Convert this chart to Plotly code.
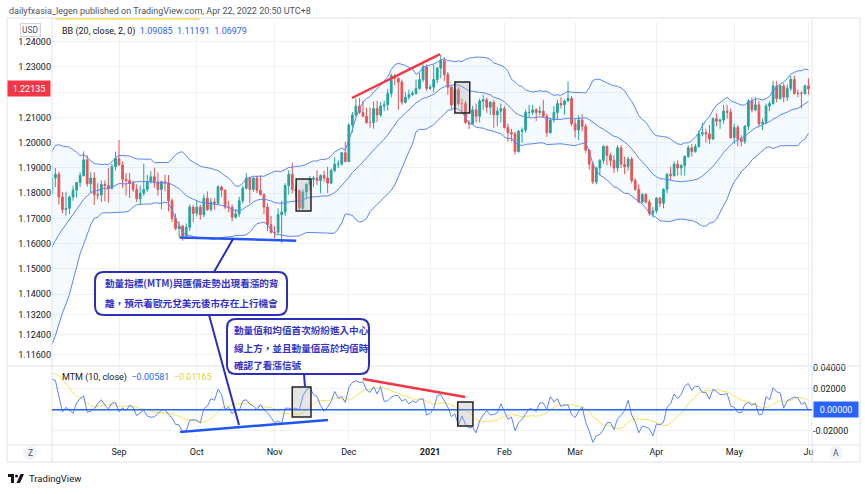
import plotly.graph_objects as go
import pandas as pd

# ---------------- data (EUR/USD daily, Jul 1 2020 - Jun 1 2021) ----------------
closes = [
    1.1250, 1.1240, 1.1245, 1.1310, 1.1275, 1.1330, 1.1285, 1.1300, 1.1340, 1.1410, 1.1413, 1.1383, 1.1428, 1.1445, 1.1525, 1.1570, 1.1595, 1.1655, 1.1755, 1.1717, 1.1790, 1.1845, 1.1778,
    1.1762, 1.1800, 1.1860, 1.1875, 1.1785, 1.1735, 1.1740, 1.1785, 1.1812, 1.1842, 1.1870, 1.1932, 1.1837, 1.1860, 1.1795, 1.1793, 1.1835, 1.1830, 1.1820, 1.1905, 1.1937,
    1.1912, 1.1855, 1.1850, 1.1838, 1.1815, 1.1778, 1.1800, 1.1815, 1.1845, 1.1865, 1.1845, 1.1815, 1.1845, 1.1840, 1.1770, 1.1700, 1.1660, 1.1670, 1.1630, 1.1665, 1.1745, 1.1720,
    1.1745, 1.1715, 1.1780, 1.1735, 1.1765, 1.1760, 1.1825, 1.1812, 1.1745, 1.1745, 1.1705, 1.1718, 1.1770, 1.1820, 1.1860, 1.1815, 1.1860, 1.1812, 1.1795, 1.1745, 1.1675, 1.1645,
    1.1645, 1.1715, 1.1725, 1.1830, 1.1875, 1.1815, 1.1810, 1.1740, 1.1805, 1.1835, 1.1855, 1.1860, 1.1850, 1.1870, 1.1860, 1.1840, 1.1890, 1.1915, 1.1915, 1.1960, 1.1925,
    1.2070, 1.2110, 1.2145, 1.2120, 1.2105, 1.2080, 1.2080, 1.2135, 1.2110, 1.2145, 1.2150, 1.2195, 1.2265, 1.2255, 1.2240, 1.2160, 1.2180, 1.2190, 1.2195, 1.2215, 1.2250, 1.2300, 1.2215,
    1.2220, 1.2250, 1.2295, 1.2325, 1.2270, 1.2220, 1.2150, 1.2210, 1.2155, 1.2155, 1.2080, 1.2075, 1.2130, 1.2105, 1.2165, 1.2170, 1.2140, 1.2160, 1.2110, 1.2125, 1.2135,
    1.2060, 1.2040, 1.2035, 1.1965, 1.2045, 1.2050, 1.2120, 1.2120, 1.2130, 1.2120, 1.2125, 1.2105, 1.2040, 1.2090, 1.2120, 1.2155, 1.2150, 1.2165, 1.2175, 1.2075,
    1.2050, 1.2090, 1.2065, 1.1970, 1.1915, 1.1845, 1.1900, 1.1930, 1.1985, 1.1950, 1.1930, 1.1900, 1.1980, 1.1915, 1.1905, 1.1935, 1.1850, 1.1815, 1.1765, 1.1795, 1.1765, 1.1720, 1.1730,
    1.1780, 1.1760, 1.1815, 1.1875, 1.1870, 1.1915, 1.1900, 1.1910, 1.1945, 1.1980, 1.1965, 1.1985, 1.2035, 1.2040, 1.2035, 1.2015, 1.2095, 1.2085, 1.2090, 1.2125, 1.2120, 1.2020,
    1.2060, 1.2015, 1.2005, 1.2065, 1.2165, 1.2130, 1.2150, 1.2075, 1.2080, 1.2145, 1.2155, 1.2225, 1.2175, 1.2225, 1.2180, 1.2215, 1.2250, 1.2195, 1.2195, 1.2195, 1.2225,
    1.22135,
]
opens = [
    1.1233, 1.1250, 1.1240, 1.1245, 1.1310, 1.1275, 1.1330, 1.1285, 1.1300, 1.1340, 1.1410, 1.1413, 1.1383, 1.1428, 1.1445, 1.1525, 1.1570, 1.1595, 1.1655, 1.1755, 1.1717, 1.1790, 1.1845,
    1.1778, 1.1762, 1.1800, 1.1860, 1.1875, 1.1785, 1.1735, 1.1740, 1.1785, 1.1812, 1.1842, 1.1870, 1.1932, 1.1837, 1.1860, 1.1795, 1.1793, 1.1835, 1.1830, 1.1820, 1.1905,
    1.1937, 1.1912, 1.1855, 1.1850, 1.1838, 1.1815, 1.1778, 1.1800, 1.1815, 1.1845, 1.1865, 1.1845, 1.1815, 1.1845, 1.1840, 1.1770, 1.1700, 1.1660, 1.1670, 1.1630, 1.1665, 1.1745,
    1.1720, 1.1745, 1.1715, 1.1780, 1.1735, 1.1765, 1.1760, 1.1825, 1.1812, 1.1745, 1.1745, 1.1705, 1.1718, 1.1770, 1.1820, 1.1860, 1.1815, 1.1860, 1.1812, 1.1795, 1.1745, 1.1675,
    1.1645, 1.1645, 1.1715, 1.1725, 1.1830, 1.1875, 1.1815, 1.1810, 1.1740, 1.1805, 1.1835, 1.1855, 1.1860, 1.1850, 1.1870, 1.1860, 1.1840, 1.1890, 1.1915, 1.1915, 1.1960,
    1.1925, 1.2070, 1.2110, 1.2145, 1.2120, 1.2105, 1.2080, 1.2080, 1.2135, 1.2110, 1.2145, 1.2150, 1.2195, 1.2265, 1.2255, 1.2240, 1.2160, 1.2180, 1.2190, 1.2195, 1.2215, 1.2250, 1.2300,
    1.2215, 1.2220, 1.2250, 1.2295, 1.2325, 1.2270, 1.2220, 1.2150, 1.2210, 1.2155, 1.2155, 1.2080, 1.2075, 1.2130, 1.2105, 1.2165, 1.2170, 1.2140, 1.2160, 1.2110, 1.2125,
    1.2135, 1.2060, 1.2040, 1.2035, 1.1965, 1.2045, 1.2050, 1.2120, 1.2120, 1.2130, 1.2120, 1.2125, 1.2105, 1.2040, 1.2090, 1.2120, 1.2155, 1.2150, 1.2165, 1.2175,
    1.2075, 1.2050, 1.2090, 1.2065, 1.1970, 1.1915, 1.1845, 1.1900, 1.1930, 1.1985, 1.1950, 1.1930, 1.1900, 1.1980, 1.1915, 1.1905, 1.1935, 1.1850, 1.1815, 1.1765, 1.1795, 1.1765, 1.1720,
    1.1730, 1.1780, 1.1760, 1.1815, 1.1875, 1.1870, 1.1915, 1.1900, 1.1910, 1.1945, 1.1980, 1.1965, 1.1985, 1.2035, 1.2040, 1.2035, 1.2015, 1.2095, 1.2085, 1.2090, 1.2125, 1.2120,
    1.2020, 1.2060, 1.2015, 1.2005, 1.2065, 1.2165, 1.2130, 1.2150, 1.2075, 1.2080, 1.2145, 1.2155, 1.2225, 1.2175, 1.2225, 1.2180, 1.2215, 1.2250, 1.2195, 1.2195, 1.2195,
    1.2225,
]
highs = [
    1.1290, 1.1303, 1.1260, 1.1346, 1.1323, 1.1345, 1.1371, 1.1310, 1.1375, 1.1420, 1.1452, 1.1427, 1.1450, 1.1469, 1.1540, 1.1600, 1.1627, 1.1661, 1.1780, 1.1780, 1.1806, 1.1850, 1.1909,
    1.1794, 1.1809, 1.1916, 1.1900, 1.1885, 1.1805, 1.1805, 1.1790, 1.1830, 1.1845, 1.1883, 1.1966, 1.1951, 1.1883, 1.1883, 1.1840, 1.1850, 1.1850, 1.1900, 1.1916, 1.1965,
    1.2011, 1.1925, 1.1880, 1.1880, 1.1850, 1.1835, 1.1830, 1.1917, 1.1872, 1.1887, 1.1901, 1.1882, 1.1850, 1.1873, 1.1872, 1.1780, 1.1720, 1.1688, 1.1675, 1.1680, 1.1755, 1.1754,
    1.1771, 1.1755, 1.1795, 1.1807, 1.1780, 1.1780, 1.1832, 1.1830, 1.1815, 1.1770, 1.1755, 1.1737, 1.1786, 1.1830, 1.1880, 1.1865, 1.1865, 1.1870, 1.1870, 1.1800, 1.1760, 1.1710,
    1.1670, 1.1740, 1.1770, 1.1840, 1.1891, 1.1920, 1.1830, 1.1815, 1.1815, 1.1840, 1.1868, 1.1868, 1.1891, 1.1875, 1.1889, 1.1905, 1.1897, 1.1942, 1.1930, 1.1964, 1.2004,
    1.2077, 1.2122, 1.2176, 1.2177, 1.2167, 1.2138, 1.2140, 1.2163, 1.2166, 1.2162, 1.2167, 1.2212, 1.2273, 1.2272, 1.2258, 1.2250, 1.2200, 1.2210, 1.2205, 1.2250, 1.2276, 1.2310, 1.2310,
    1.2230, 1.2310, 1.2300, 1.2349, 1.2339, 1.2280, 1.2225, 1.2215, 1.2220, 1.2175, 1.2165, 1.2090, 1.2145, 1.2155, 1.2175, 1.2190, 1.2180, 1.2165, 1.2170, 1.2140, 1.2155,
    1.2145, 1.2076, 1.2055, 1.2045, 1.2051, 1.2060, 1.2131, 1.2150, 1.2150, 1.2137, 1.2145, 1.2170, 1.2115, 1.2095, 1.2145, 1.2170, 1.2180, 1.2170, 1.2243, 1.2185,
    1.2095, 1.2108, 1.2113, 1.2074, 1.1975, 1.1925, 1.1905, 1.1935, 1.1990, 1.1990, 1.1960, 1.1950, 1.1990, 1.1990, 1.1945, 1.1945, 1.1945, 1.1860, 1.1835, 1.1800, 1.1800, 1.1775, 1.1745,
    1.1785, 1.1785, 1.1820, 1.1880, 1.1905, 1.1925, 1.1930, 1.1915, 1.1950, 1.1990, 1.1995, 1.1995, 1.2048, 1.2080, 1.2055, 1.2070, 1.2100, 1.2117, 1.2095, 1.2150, 1.2150, 1.2135,
    1.2075, 1.2070, 1.2030, 1.2070, 1.2173, 1.2180, 1.2180, 1.2165, 1.2095, 1.2155, 1.2165, 1.2245, 1.2245, 1.2230, 1.2235, 1.2230, 1.2265, 1.2265, 1.2210, 1.2205, 1.2230,
    1.2255,
]
lows = [
    1.1218, 1.1227, 1.1225, 1.1241, 1.1254, 1.1262, 1.1275, 1.1254, 1.1295, 1.1317, 1.1395, 1.1371, 1.1375, 1.1420, 1.1426, 1.1512, 1.1540, 1.1590, 1.1650, 1.1690, 1.1714, 1.1754, 1.1762,
    1.1695, 1.1738, 1.1790, 1.1825, 1.1755, 1.1720, 1.1711, 1.1718, 1.1770, 1.1783, 1.1824, 1.1866, 1.1826, 1.1803, 1.1753, 1.1775, 1.1765, 1.1768, 1.1762, 1.1814, 1.1890,
    1.1910, 1.1820, 1.1790, 1.1781, 1.1805, 1.1765, 1.1753, 1.1790, 1.1805, 1.1838, 1.1821, 1.1790, 1.1737, 1.1808, 1.1728, 1.1685, 1.1653, 1.1627, 1.1612, 1.1620, 1.1650, 1.1685,
    1.1708, 1.1695, 1.1705, 1.1730, 1.1728, 1.1735, 1.1755, 1.1785, 1.1737, 1.1725, 1.1689, 1.1700, 1.1706, 1.1760, 1.1815, 1.1760, 1.1805, 1.1800, 1.1790, 1.1717, 1.1650, 1.1640,
    1.1622, 1.1640, 1.1603, 1.1710, 1.1795, 1.1800, 1.1783, 1.1735, 1.1735, 1.1778, 1.1811, 1.1825, 1.1833, 1.1800, 1.1845, 1.1801, 1.1836, 1.1883, 1.1900, 1.1910, 1.1923,
    1.1924, 1.2040, 1.2104, 1.2114, 1.2102, 1.2075, 1.2059, 1.2056, 1.2082, 1.2102, 1.2125, 1.2127, 1.2180, 1.2227, 1.2130, 1.2150, 1.2155, 1.2170, 1.2185, 1.2190, 1.2210, 1.2240, 1.2205,
    1.2210, 1.2200, 1.2236, 1.2255, 1.2245, 1.2190, 1.2132, 1.2130, 1.2145, 1.2115, 1.2075, 1.2054, 1.2070, 1.2080, 1.2080, 1.2130, 1.2118, 1.2110, 1.2058, 1.2065, 1.2080,
    1.2056, 1.2004, 1.2005, 1.1952, 1.1960, 1.2000, 1.2040, 1.2100, 1.2110, 1.2086, 1.2110, 1.2100, 1.2023, 1.2035, 1.2080, 1.2090, 1.2135, 1.2110, 1.2162, 1.2065,
    1.2020, 1.2010, 1.2045, 1.1960, 1.1893, 1.1836, 1.1835, 1.1870, 1.1915, 1.1910, 1.1905, 1.1880, 1.1885, 1.1900, 1.1875, 1.1890, 1.1840, 1.1810, 1.1760, 1.1760, 1.1760, 1.1710, 1.1704,
    1.1720, 1.1745, 1.1740, 1.1800, 1.1850, 1.1865, 1.1870, 1.1870, 1.1870, 1.1940, 1.1945, 1.1960, 1.1980, 1.2025, 1.2000, 1.1995, 1.2010, 1.2065, 1.2055, 1.2075, 1.2095, 1.2015,
    1.1995, 1.1985, 1.1985, 1.1995, 1.2050, 1.2120, 1.2125, 1.2065, 1.2050, 1.2075, 1.2125, 1.2150, 1.2160, 1.2170, 1.2160, 1.2165, 1.2205, 1.2190, 1.2180, 1.2135, 1.2190,
    1.2190,
]
assert len(closes) == len(opens) == len(highs) == len(lows) == 240

month_labels = ["Sep", "Oct", "Nov", "Dec", "<b>2021</b>", "Feb", "Mar", "Apr", "May", "Ju"]
price_ticks = [1.24, 1.23, 1.22, 1.21, 1.20, 1.19, 1.18, 1.17, 1.16, 1.15, 1.14, 1.132, 1.124, 1.116]
price_tick_text = ["1.24000", "1.23000", "", "1.21000", "1.20000", "1.19000", "1.18000", "1.17000",
                   "1.16000", "1.15000", "1.14000", "1.13200", "1.12400", "1.11600"]
mtm_ticks = [0.04, 0.02, -0.02]
mtm_tick_text = ["0.04000", "0.02000", "-0.02000"]

# ---------------- derived series ----------------
dates = pd.bdate_range("2020-07-01", periods=len(closes))
bar = list(range(len(closes)))
starts, prev = [], None
for i, d in enumerate(dates):
    if (d.year, d.month) != prev:
        starts.append(i)
        prev = (d.year, d.month)
month_ticks = starts[2:]

s = pd.Series(closes)
basis = s.rolling(20).mean()
dev = s.rolling(20).std(ddof=0)
upper = basis + 2 * dev
lower = basis - 2 * dev
mtm = s - s.shift(10)
mtm_avg = mtm.rolling(10).mean()

# ---------------- styling ----------------
FONT = "Roboto, Liberation Sans, Arial, sans-serif"
CJK = "Noto Sans CJK TC, Noto Sans CJK SC, sans-serif"
BB_COL = "#5b84f5"
GRID = "#eef1f6"
CALL = "#2e2eb8"

L, R, T, B = 52, 812, 22, 445


def PX(x):
    return (x - L) / (R - L)


def PY(y):
    return (B - y) / (B - T)


fig = go.Figure()
fig.add_trace(go.Scatter(x=bar, y=lower, mode="lines", line=dict(color=BB_COL, width=1),
                         hoverinfo="skip", showlegend=False))
fig.add_trace(go.Scatter(x=bar, y=upper, mode="lines", line=dict(color=BB_COL, width=1),
                         fill="tonexty", fillcolor="rgba(33,150,243,0.045)",
                         hoverinfo="skip", showlegend=False))
fig.add_trace(go.Scatter(x=bar, y=basis, mode="lines", line=dict(color=BB_COL, width=1),
                         hoverinfo="skip", showlegend=False))
fig.add_trace(go.Candlestick(x=bar, open=opens, high=highs, low=lows, close=closes,
                             increasing=dict(line=dict(color="#26a69a", width=1), fillcolor="#26a69a"),
                             decreasing=dict(line=dict(color="#ef5350", width=1), fillcolor="#ef5350"),
                             whiskerwidth=0, showlegend=False, hoverinfo="skip"))
fig.add_trace(go.Scatter(x=bar, y=mtm_avg, mode="lines", line=dict(color="#f7e35c", width=1),
                         xaxis="x2", yaxis="y2", hoverinfo="skip", showlegend=False))
fig.add_trace(go.Scatter(x=bar, y=mtm, mode="lines", line=dict(color=BB_COL, width=1),
                         xaxis="x2", yaxis="y2", hoverinfo="skip", showlegend=False))

xr = [25.05, 240.0]
main_bottom = (B - 365) / (B - T)
mtm_top = (B - 367) / (B - T)

fig.update_layout(
    width=865, height=494,
    margin=dict(l=L, r=865 - R, t=T, b=494 - B),
    paper_bgcolor="white", plot_bgcolor="white",
    font=dict(family=FONT, size=9, color="#131722"),
    showlegend=False,
    xaxis=dict(domain=[0, 1], range=xr, anchor="y", tickvals=month_ticks, showticklabels=False,
               showgrid=True, gridcolor=GRID, zeroline=False, rangeslider=dict(visible=False),
               ticks=""),
    xaxis2=dict(domain=[0, 1], range=xr, anchor="y2", matches="x", tickvals=month_ticks,
                ticktext=month_labels, showgrid=True, gridcolor=GRID, zeroline=False, ticks="",
                tickfont=dict(size=9, color="#131722")),
    yaxis=dict(domain=[main_bottom, 1], range=[1.11196, 1.2478], side="left",
               tickvals=price_ticks, ticktext=price_tick_text, showgrid=True, gridcolor=GRID,
               zeroline=False, ticks="", tickfont=dict(size=9, color="#131722")),
    yaxis2=dict(domain=[0, mtm_top], range=[-0.0336, 0.0407], side="right", anchor="x2",
                tickvals=mtm_ticks, ticktext=mtm_tick_text, showgrid=True, gridcolor=GRID,
                zeroline=False, ticks="", tickfont=dict(size=9, color="#131722")),
)

shapes = []
# frame lines
frame = "#e0e3eb"
shapes.append(dict(type="rect", xref="paper", yref="paper", x0=PX(7), x1=PX(860), y0=PY(462), y1=PY(18),
                   line=dict(color=frame, width=1)))
for xx in (52, 812):
    shapes.append(dict(type="line", xref="paper", yref="paper", x0=PX(xx), x1=PX(xx), y0=PY(462), y1=PY(18),
                       line=dict(color=frame, width=1)))
for yy in (366, 445):
    shapes.append(dict(type="line", xref="paper", yref="paper", x0=PX(7), x1=PX(860), y0=PY(yy), y1=PY(yy),
                       line=dict(color=frame, width=1)))
shapes.append(dict(type="line", xref="paper", yref="paper", x0=PX(55), x1=PX(200), y0=PY(19), y1=PY(19),
                   line=dict(color="#f5e27a", width=2)))
# zero line in MTM pane
shapes.append(dict(type="line", xref="paper", yref="y2", x0=0, x1=1, y0=0, y1=0,
                   line=dict(color="#2962ff", width=1.5), layer="above"))

# drawings on the price pane
shapes.append(dict(type="line", xref="x", yref="y", x0=109.9, y0=1.2177, x1=134.8, y1=1.2351,
                   line=dict(color="#f23645", width=2.5), layer="above"))
shapes.append(dict(type="line", xref="x", yref="y", x0=61.1, y0=1.1625, x1=94.1, y1=1.1612,
                   line=dict(color="#2457f5", width=2.5), layer="above"))
for (xa, ya, xb, yb) in [(94.1, 1.1856, 98.3, 1.1729), (139.0, 1.2240, 143.2, 1.2118)]:
    shapes.append(dict(type="rect", xref="x", yref="y", x0=xa, y0=ya, x1=xb, y1=yb,
                       line=dict(color="#222222", width=1.5), fillcolor="rgba(170,170,170,0.3)", layer="above"))
# drawings on the MTM pane
shapes.append(dict(type="line", xref="x2", yref="y2", x0=61.3, y0=-0.0212, x1=103.1, y1=-0.0098,
                   line=dict(color="#1f55f5", width=2.5), layer="above"))
shapes.append(dict(type="line", xref="x2", yref="y2", x0=113.0, y0=0.0292, x1=141.9, y1=0.0121,
                   line=dict(color="#f23645", width=2.5), layer="above"))
for (xa, ya, xb, yb) in [(93.0, 0.0216, 98.3, -0.0070), (139.8, 0.0073, 144.1, -0.0155)]:
    shapes.append(dict(type="rect", xref="x2", yref="y2", x0=xa, y0=ya, x1=xb, y1=yb,
                       line=dict(color="#222222", width=1.5), fillcolor="rgba(170,170,170,0.3)", layer="above"))

# callout connectors
for (xa, ya, xb, yb) in [(233, 239, 214, 272), (209, 315, 239, 425), (304, 374, 305, 387)]:
    shapes.append(dict(type="line", xref="paper", yref="paper", x0=PX(xa), y0=PY(ya), x1=PX(xb), y1=PY(yb),
                       line=dict(color=CALL, width=2), layer="above"))


def rounded(x0, y0, x1, y1, r):
    p = lambda x, y: f"{PX(x):.5f},{PY(y):.5f}"
    return (f"M {p(x0 + r, y0)} L {p(x1 - r, y0)} Q {p(x1, y0)} {p(x1, y0 + r)} "
            f"L {p(x1, y1 - r)} Q {p(x1, y1)} {p(x1 - r, y1)} L {p(x0 + r, y1)} "
            f"Q {p(x0, y1)} {p(x0, y1 - r)} L {p(x0, y0 + r)} Q {p(x0, y0)} {p(x0 + r, y0)} Z")


for box in [(95, 272, 287, 315), (227, 319, 369, 374)]:
    shapes.append(dict(type="path", xref="paper", yref="paper", path=rounded(*box, 9),
                       line=dict(color=CALL, width=2), fillcolor="white", layer="above"))

# Z / A buttons
for cx, cy in [(30, 453), (836, 453)]:
    shapes.append(dict(type="circle", xref="paper", yref="paper", x0=PX(cx - 7), x1=PX(cx + 7),
                       y0=PY(cy + 7), y1=PY(cy - 7), fillcolor="#f0f3fa", line=dict(width=0)))
# TradingView logo
shapes.append(dict(type="path", xref="paper", yref="paper",
                   path=(f"M {PX(8)},{PY(474)} L {PX(14)},{PY(474)} L {PX(14)},{PY(483)} L {PX(11)},{PY(483)} "
                         f"L {PX(11)},{PY(477)} L {PX(8)},{PY(477)} Z"),
                   fillcolor="#131722", line=dict(width=0)))
shapes.append(dict(type="circle", xref="paper", yref="paper", x0=PX(15), x1=PX(18), y0=PY(477.5), y1=PY(474.5),
                   fillcolor="#131722", line=dict(width=0)))
shapes.append(dict(type="path", xref="paper", yref="paper",
                   path=f"M {PX(20.5)},{PY(474)} L {PX(24)},{PY(474)} L {PX(20)},{PY(483)} L {PX(16.5)},{PY(483)} Z",
                   fillcolor="#131722", line=dict(width=0)))

fig.update_layout(shapes=shapes)

ann = []


def text(x, y, t, size=9, color="#131722", xanchor="left", family=FONT, **kw):
    ann.append(dict(xref="paper", yref="paper", x=PX(x), y=PY(y), text=t, showarrow=False,
                    xanchor=xanchor, yanchor="middle", font=dict(size=size, color=color, family=family), **kw))


text(7, 11, "dailyfxasia_legen published on TradingView.com, Apr 22, 2022 20:50 UTC+8", size=9, color="#50535e")
text(60, 31, "BB (20, close, 2, 0)&nbsp;&nbsp;<span style='color:#2962ff'>1.09085&nbsp;&nbsp;1.11191&nbsp;&nbsp;1.06979</span>")
text(60, 377, "MTM (10, close)&nbsp;&nbsp;<span style='color:#2962ff'>\u22120.00581</span>&nbsp;&nbsp;"
              "<span style='color:#e8d02a'>\u22120.01165</span>")
text(30, 30, "USD", size=8.5, color="#50535e", xanchor="center", bordercolor="#d1d4dc", borderwidth=1,
     borderpad=1, bgcolor="white")
text(29, 88, "1.22135", size=9, color="white", xanchor="center", bgcolor="#f23645", width=40, height=13)
text(836, 409.7, "0.00000", size=9, color="white", xanchor="center", bgcolor="#2962ff", width=42, height=13)
text(30, 453, "Z", size=8.5, color="#50535e", xanchor="center")
text(836, 453, "A", size=8.5, color="#50535e", xanchor="center")
text(27, 479, "TradingView", size=9.5, color="#131722")

callout_lines = [
    (103, 283, "動量指標(MTM)與匯價走勢出現看漲的背"),
    (103, 303, "離，預示着歐元兌美元後市存在上行機會"),
    (232, 330, "動量值和均值首次紛紛進入中心"),
    (232, 348, "線上方，並且動量值高於均值時"),
    (232, 365, "確認了看漲信號"),
]
for x, y, t in callout_lines:
    text(x, y, f"<b>{t}</b>", size=9.6, color="#3434c4", family=CJK)

fig.update_layout(annotations=ann)
fig.write_html("out.html")
